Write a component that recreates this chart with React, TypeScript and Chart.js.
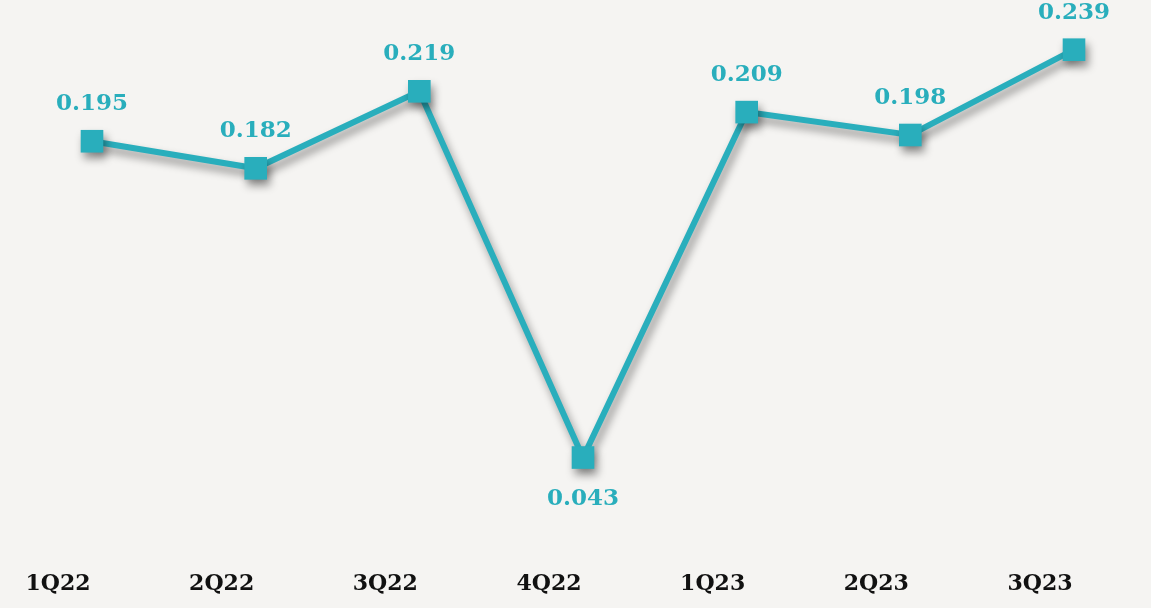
import React, { useEffect, useRef } from "react";
import { Chart, registerables } from "chart.js";
Chart.register(...registerables);

const categories = ["1Q22", "2Q22", "3Q22", "4Q22", "1Q23", "2Q23", "3Q23"];
const values = [0.195, 0.182, 0.219, 0.043, 0.209, 0.198, 0.239];
const valueLabels = ["0.195", "0.182", "0.219", "0.043", "0.209", "0.198", "0.239"];
const labelBelow = [false, false, false, true, false, false, false];

const TEAL = "#29AEBC";
const FONT = "'DejaVu Serif', Georgia, serif";

export default function App() {
  const ref = useRef<HTMLCanvasElement>(null);
  useEffect(() => {
    if (!ref.current) return;
    const shadowPlugin = {
      id: "shadow",
      beforeDatasetsDraw(chart: any) {
        const ctx = chart.ctx;
        ctx.save();
        ctx.shadowColor = "rgba(0,0,0,0.42)";
        ctx.shadowBlur = 8;
        ctx.shadowOffsetX = 3;
        ctx.shadowOffsetY = 6;
      },
      afterDatasetsDraw(chart: any) {
        chart.ctx.restore();
      },
    };
    const labelPlugin = {
      id: "valueLabels",
      afterDatasetsDraw(chart: any) {
        const ctx = chart.ctx;
        const meta = chart.getDatasetMeta(0);
        ctx.save();
        ctx.font = `bold 23px ${FONT}`;
        ctx.fillStyle = TEAL;
        ctx.textAlign = "center";
        ctx.textBaseline = "middle";
        meta.data.forEach((pt: any, i: number) => {
          const dy = labelBelow[i] ? 42 : -37;
          ctx.fillText(valueLabels[i], pt.x, pt.y + dy);
        });
        ctx.restore();
      },
    };
    const chart = new Chart(ref.current, {
      type: "line",
      data: {
        labels: categories,
        datasets: [
          {
            data: values,
            borderColor: TEAL,
            backgroundColor: TEAL,
            borderWidth: 6,
            pointStyle: "rect",
            pointRadius: 16,
            pointHoverRadius: 16,
            pointBackgroundColor: TEAL,
            pointBorderColor: TEAL,
            pointBorderWidth: 0,
            tension: 0,
            clip: false,
          },
        ],
      },
      options: {
        animation: false,
        responsive: true,
        maintainAspectRatio: false,
        layout: { autoPadding: false, padding: { left: 92, right: 77, top: 6, bottom: 0 } },
        plugins: { legend: { display: false }, tooltip: { enabled: false } },
        scales: {
          x: {
            offset: false,
            grid: { display: false, drawTicks: false },
            border: { display: false },
            afterFit(scale: any) {
              scale.height = 61;
            },
            ticks: {
              color: "#111",
              font: { family: FONT, size: 22, weight: "bold" },
              padding: 24,
              labelOffset: -34,
              maxRotation: 0,
            },
          },
          y: {
            display: false,
            min: 0,
            max: 0.26,
          },
        },
      },
      plugins: [shadowPlugin, labelPlugin],
    });
    return () => chart.destroy();
  }, []);
  return (
    <div style={{ position: "fixed", left: 0, top: 0, width: 1151, height: 608, background: "#F5F4F2" }}>
      <canvas ref={ref} />
    </div>
  );
}
